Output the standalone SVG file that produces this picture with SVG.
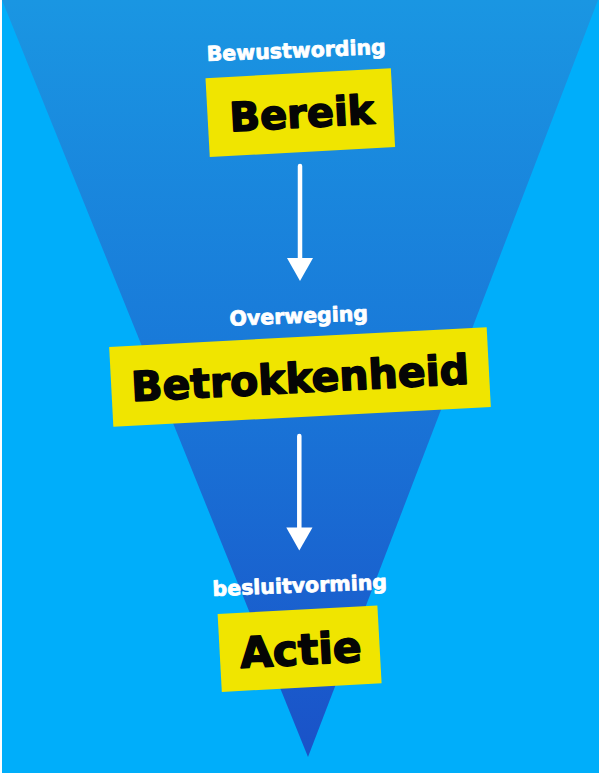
<svg xmlns="http://www.w3.org/2000/svg" width="601" height="775" viewBox="0 0 601 775">
  <defs>
    <linearGradient id="funnel" x1="0" y1="0" x2="0" y2="757" gradientUnits="userSpaceOnUse">
      <stop offset="0" stop-color="#1A96E2"/>
      <stop offset="0.5" stop-color="#1977D8"/>
      <stop offset="1" stop-color="#1A52C8"/>
    </linearGradient>
    <style>
      .box { fill: #F0E500; }
      .main { font-family: "DejaVu Sans", "Liberation Sans", sans-serif; font-weight: bold; fill: #050505; stroke: #050505; stroke-width: 1.6; stroke-linejoin: round; text-anchor: middle; }
      .sub { font-family: "DejaVu Sans", "Liberation Sans", sans-serif; font-weight: bold; font-size: 20.5px; fill: #FFFFFF; stroke: #FFFFFF; stroke-width: 0.8; stroke-linejoin: round; text-anchor: middle; }
      .shaft { stroke: #FFFFFF; stroke-width: 4.5; stroke-linecap: round; fill: none; }
      .ahead { fill: #FFFFFF; }
    </style>
  </defs>

  <rect x="0" y="0" width="601" height="775" fill="#FFFFFF"/>
  <rect x="2" y="0" width="597" height="773" fill="#00AEFA"/>
  <polygon points="2,0 598,0 308,757" fill="url(#funnel)"/>

  <g id="connectors">
    <line class="shaft" x1="300" y1="166" x2="300" y2="262"/>
    <polygon class="ahead" points="287,258 313,258 300,281"/>
    <line class="shaft" x1="299.3" y1="436" x2="299.3" y2="531"/>
    <polygon class="ahead" points="286.3,527.5 312.5,527.5 299.3,550.5"/>
  </g>

  <g id="node-bereik">
    <text class="sub" transform="translate(296.5,57.5) rotate(-2.3)" x="0" y="0">Bewustwording</text>
    <g transform="translate(300.3,112.6) rotate(-3.1)">
      <rect class="box" x="-92.8" y="-39.5" width="185.6" height="79"/>
      <text class="main" x="1.5" y="15" font-size="40">Bereik</text>
    </g>
  </g>

  <g id="node-betrokkenheid">
    <text class="sub" transform="translate(299,323) rotate(-2.3)" x="0" y="0">Overweging</text>
    <g transform="translate(300,377) rotate(-3)">
      <rect class="box" x="-189" y="-40" width="378" height="80"/>
      <text class="main" x="0" y="15.5" font-size="41">Betrokkenheid</text>
    </g>
  </g>

  <g id="node-actie">
    <text class="sub" transform="translate(300,592.5) rotate(-2.3)" x="0" y="0">besluitvorming</text>
    <g transform="translate(299.6,648.7) rotate(-3.1)">
      <rect class="box" x="-80" y="-39" width="160" height="78"/>
      <text class="main" x="1" y="16" font-size="42.5">Actie</text>
    </g>
  </g>
</svg>
